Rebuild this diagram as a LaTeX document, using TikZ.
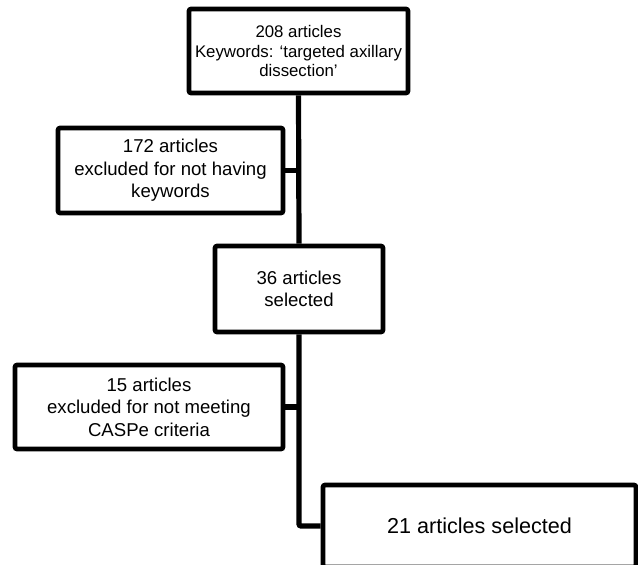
\documentclass[tikz,border=0pt]{standalone}
\usepackage{fontspec}
\setmainfont{Liberation Sans}
\begin{document}
\begin{tikzpicture}[x=0.5pt,y=-0.5pt]
    \useasboundingbox (0,0) rectangle (638,564);

    % Stijlen
    \tikzset{box/.style={draw, line width=2.3pt, rounded corners=1pt, align=center, inner sep=0pt,
                         font=\fontsize{9.3}{11.3}\selectfont},
             lijn/.style={line width=2.6pt, rounded corners=1pt}}

    % Blokken
    \node[box, minimum width=109.5pt, minimum height=42pt, font=\fontsize{8.4}{9.9}\selectfont]
        (artikelen) at (298.5,51) {208 articles\\Keywords: ‘targeted axillary\\dissection’};
    \node[box, minimum width=112.5pt, minimum height=42.5pt]
        (uitgesloten1) at (170.5,170.5) {172 articles\\excluded for not having\\keywords};
    \node[box, minimum width=84pt, minimum height=43pt]
        (geselecteerd) at (299,289) {36 articles\\selected};
    \node[box, minimum width=134pt, minimum height=42pt]
        (uitgesloten2) at (149,407) {15 articles\\excluded for not meeting\\CASPe criteria};
    \node[box, minimum width=156.5pt, minimum height=41pt, font=\fontsize{10.8}{13}\selectfont]
        (resultaat) at (479.5,526) {21 articles selected};

    % Lijnen
    \draw[lijn] (artikelen.south) -- (geselecteerd.north);
    \draw[lijn] (uitgesloten1.east) -- (uitgesloten1.east -| artikelen.south);
    \draw[lijn] (geselecteerd.south) |- (resultaat.west);
    \draw[lijn] (uitgesloten2.east) -- (uitgesloten2.east -| geselecteerd.south);
\end{tikzpicture}
\end{document}
